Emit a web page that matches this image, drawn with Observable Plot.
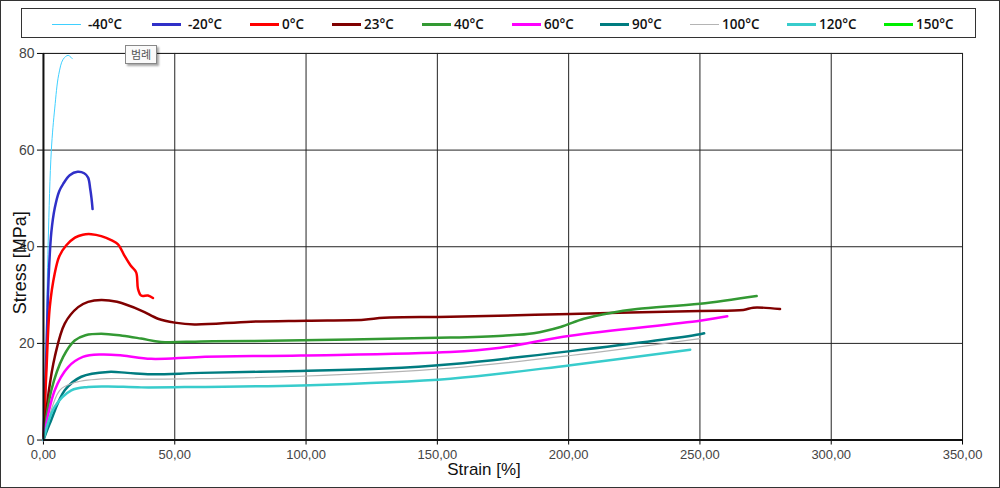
<!DOCTYPE html>
<html>
<head>
<meta charset="utf-8">
<script src="https://cdn.jsdelivr.net/npm/d3@7"></script>
<script src="https://cdn.jsdelivr.net/npm/@observablehq/plot@0.6"></script>
<style>
  html, body { margin: 0; padding: 0; background: #fff; }
  #wrap { position: relative; width: 1000px; height: 488px; box-sizing: border-box; border: 1px solid #333; overflow: hidden; }
  #chart { position: absolute; left: -1px; top: -1px; }
  #legend { position: absolute; left: 20px; top: 7px; width: 955px; height: 30px; box-sizing: border-box; border: 1px solid #333; background: #fff;
            font-family: "Open Sans", "DejaVu Sans", sans-serif; font-size: 13.5px; font-weight: 600; color: #111; }
  .item { position: absolute; top: 6px; height: 18px; display: flex; align-items: center; }
  .swatch { display: inline-block; width: 29px; margin-right: 3px; }
  #tip { position: absolute; left: 124px; top: 44px; padding: 0 5px; height: 17px; line-height: 17px; border: 1px solid #888; background: #fafafa;
         box-shadow: 2px 2px 2px rgba(0,0,0,0.35); font-family: "Noto Sans CJK KR", sans-serif; font-size: 11px; color: #555; }
</style>
</head>
<body>
<div id="wrap">
  <div id="chart"></div>
  <div id="legend"></div>
  <div id="tip">범례</div>
</div>
<script>
// ---- series names / colours / widths ----
const seriesNames  = ["-40°C", "-20°C", "0°C", "23°C", "40°C", "60°C", "90°C", "100°C", "120°C", "150°C"];
const seriesColors = ["#3fd0ff", "#3030c8", "#ff0000", "#800000", "#339933", "#ff00ff", "#007c80", "#b4b4b4", "#38cccc", "#00ee00"];
const seriesWidths = [1, 2.5, 2.5, 2.5, 2.5, 2.5, 2.5, 1.2, 2.5, 2.5];
const legendX      = [50, 150, 248, 330, 420, 510, 598, 688, 785, 882];

// ---- data: [strain %, stress MPa] ----
const dM40 = [[0,0],[0.5,9],[1,20],[1.8,41],[3,60],[4.3,68.7],[5.8,75.6],[7.5,78.8],[9.4,79.6],[11,78.9]];
const dM20 = [[0,0],[1,16],[2,34],[3,43],[4.3,48],[6,51.5],[7.5,53],[10,54.8],[13,55.5],[15.5,55.2],[17,54.3],[17.8,52],[18.3,50],[18.7,47.8]];
const d0   = [[0,0],[0.5,7],[1.1,14],[2.4,27.5],[4.3,34.5],[6,38],[8.7,40.3],[12,41.9],[15,42.5],[18.2,42.6],[22,42.2],[26,41.3],[28.4,40.5],[30.9,38.1],[33.2,36.1],[35.3,34.7],[36,31.3],[37.2,29.9],[39.8,29.9],[41.7,29.4]];
const d23  = [[0,0],[2,10],[4.3,17.2],[8.1,24.1],[13.2,27.5],[17,28.6],[22,29.0],[28,28.6],[37.2,26.8],[43.6,25.1],[50,24.3],[57.5,23.9],[79,24.5],[100.6,24.7],[122,24.9],[129.7,25.3],[155,25.5],[200.7,26.1],[250,26.7],[266.5,26.9],[270.3,27.4],[280.5,27.1]];
const d40  = [[0,0],[3,10.3],[7.5,17.2],[11.9,20.6],[16,21.7],[22,22.0],[30,21.6],[37.2,21.0],[44.8,20.3],[60,20.4],[79,20.5],[155,21.2],[175,21.6],[186.7,22.1],[196.9,23.4],[205.8,25.1],[215.9,26.3],[226,27.1],[250,28.2],[271.6,29.8]];
const d60  = [[0,0],[4.3,10.3],[9.4,15.1],[15,17.2],[22,17.7],[30,17.5],[41,16.8],[60,17.2],[98,17.5],[155,18.2],[174,19.1],[200.7,21.6],[250,24.7],[260.4,25.6]];
const d90  = [[0,0],[2.4,3.4],[8.1,10.3],[14.4,13.1],[24.6,14.1],[32,13.9],[41,13.6],[60,13.9],[98,14.3],[129.7,14.8],[155,15.7],[200.7,18.4],[250,21.9],[251.6,22.1]];
const d100 = [[0,0],[6.2,10.3],[12,11.9],[24.6,12.7],[41,12.6],[60,12.7],[98,13.2],[155,14.9],[200.7,17.5],[250,21.0]];
const d120 = [[0,0],[4.3,6.9],[10.6,10.3],[17,11.0],[24.6,11.1],[37.2,10.9],[60,11.0],[98,11.3],[155,12.7],[200.7,15.5],[246.3,18.7]];
const d150 = [];
const seriesData = [dM40, dM20, d0, d23, d40, d60, d90, d100, d120, d150];

// ---- axis ticks ----
const xTicks = [0, 50, 100, 150, 200, 250, 300, 350];
const yTicks = [0, 20, 40, 60, 80];

const rows = seriesData.flatMap((arr, i) => arr.map(([x, y]) => ({series: seriesNames[i], strain: x, stress: y})));

const lineMarks = seriesNames.map((name, i) =>
  Plot.line(rows.filter(r => r.series === name), {
    x: "strain", y: "stress", stroke: seriesColors[i], strokeWidth: seriesWidths[i], curve: "catmull-rom"
  })
);

const chart = Plot.plot({
  width: 1000, height: 488,
  marginLeft: 43, marginRight: 37, marginTop: 53, marginBottom: 48,
  style: {fontFamily: "Liberation Sans, Arial, sans-serif", background: "transparent"},
  x: {domain: [0, 350]},
  y: {domain: [0, 80]},
  marks: [
    Plot.gridX(xTicks, {stroke: "#222", strokeOpacity: 1}),
    Plot.gridY(yTicks, {stroke: "#222", strokeOpacity: 1}),
    Plot.frame({stroke: "#222"}),
    Plot.axisX(xTicks, {tickSize: 5, tickPadding: 5, fontSize: 13, fill: "#444",
      tickFormat: d => d.toFixed(2).replace(".", ","), label: null}),
    Plot.axisY(yTicks, {tickSize: 6, tickPadding: 3, fontSize: 14, fill: "#444", label: null}),
    ...lineMarks,
    Plot.ruleY([0], {stroke: "#111", strokeWidth: 2}),
    Plot.ruleX([0], {stroke: "#111", strokeWidth: 2}),
    Plot.text(["Strain [%]"], {frameAnchor: "bottom", textAnchor: "middle", dy: 35, dx: -19, fontSize: 17, fill: "#111"}),
    Plot.text(["Stress [MPa]"], {frameAnchor: "left", textAnchor: "middle", dx: -23, dy: 16, rotate: -90, fontSize: 18, fill: "#111"})
  ]
});
document.getElementById("chart").appendChild(chart);

// ---- legend ----
const legend = document.getElementById("legend");
seriesNames.forEach((name, i) => {
  const it = document.createElement("div");
  it.className = "item";
  it.style.left = (legendX[i] - 20) + "px";
  const sw = document.createElement("span");
  sw.className = "swatch";
  sw.style.borderTop = `${seriesWidths[i] > 2 ? 3 : 1.5}px solid ${seriesColors[i]}`;
  if (name.startsWith("-")) sw.style.marginRight = "7px";
  const tx = document.createElement("span");
  tx.textContent = name;
  it.appendChild(sw); it.appendChild(tx);
  legend.appendChild(it);
});
</script>
</body>
</html>
